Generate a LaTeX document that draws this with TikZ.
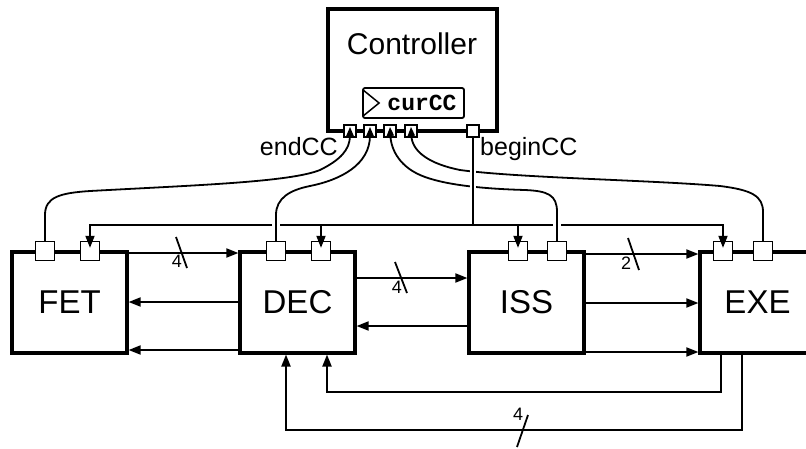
\documentclass[tikz,border=0pt]{standalone}
\usepackage{fontspec}
\setmainfont{Liberation Sans}
\setmonofont{Liberation Mono}
\usetikzlibrary{arrows.meta,calc}
\begin{document}
\begin{tikzpicture}[x=1pt,y=-1pt,
  blk/.style={draw, line width=3.2pt, minimum width=115pt, minimum height=101pt, inner sep=0pt, font=\fontsize{33}{36}\selectfont},
  prt/.style={draw, fill=white, line width=1.4pt, minimum size=19pt, inner sep=0pt},
  cprt/.style={draw, fill=white, line width=1.3pt, minimum size=12pt, inner sep=0pt},
  conn/.style={line width=1.8pt},
  arr/.style={conn, -{Triangle[length=12pt,width=9pt]}},
  sarr/.style={conn, -{Triangle[length=9pt,width=7pt]}},
  lbl/.style={font=\fontsize{25}{28}\selectfont, inner sep=0pt},
  buslbl/.style={font=\fontsize{18}{20}\selectfont, inner sep=0pt}
]
\useasboundingbox (0,0) rectangle (806,448);
\fill[white] (0,0) rectangle (806,448);
\clip (0,0) rectangle (806,448);

% controller
\node[draw, line width=3.2pt, minimum width=169pt, minimum height=122pt, inner sep=0pt] (ctl) at (412.5,70) {};
\node[font=\fontsize{30}{33}\selectfont, inner sep=0pt, anchor=base] (ctltxt) at (412,54) {Controller};
\node[draw, rounded corners=2pt, line width=1.8pt, minimum width=101pt, minimum height=30pt, inner sep=0pt] (cur) at (413.5,103) {};
\draw[line width=1.5pt] ($(cur.west)+(1,-13)$) -- ($(cur.west)+(17,0)$) -- ($(cur.west)+(1,13)$);
\node[font=\ttfamily\bfseries\fontsize{23}{26}\selectfont, inner sep=0pt] (curtxt) at (422,103) {curCC};

% blocks
\node[blk] (fet) at (69.5,302.5) {FET};
\node[blk] (dec) at (297.5,302.5) {DEC};
\node[blk] (iss) at (526.5,302.5) {ISS};
\node[blk] (exe) at (757.5,302.5) {EXE};

% controller ports
\node[cprt] (c1) at (350,131) {};
\node[cprt] (c2) at (370,131) {};
\node[cprt] (c3) at (390,131) {};
\node[cprt] (c4) at (411,131) {};
\node[cprt] (cb) at (473,131) {};

% block ports
\node[prt] (fp1) at (45,251) {};
\node[prt] (fp2) at (90,251) {};
\node[prt] (dp1) at (276,251) {};
\node[prt] (dp2) at (321,251) {};
\node[prt] (ip1) at (518,251) {};
\node[prt] (ip2) at (557,251) {};
\node[prt] (ep1) at (723,251) {};
\node[prt] (ep2) at (763,251) {};

% labels
\node[lbl, anchor=base east] (endl) at (338,155) {endCC};
\node[lbl, anchor=base west] (beginl) at (480,155) {beginCC};

% horizontal data arrows
\draw[arr] (fet.east |- 0,253) -- (dec.west |- 0,253);
\draw[arr] (dec.west |- 0,302) -- (fet.east |- 0,302);
\draw[arr] (dec.west |- 0,350) -- (fet.east |- 0,350);
\draw[arr] (dec.east |- 0,278) -- (iss.west |- 0,278);
\draw[arr] (iss.west |- 0,326) -- (dec.east |- 0,326);
\draw[arr] (iss.east |- 0,254) -- (exe.west |- 0,254);
\draw[arr] (iss.east |- 0,303) -- (exe.west |- 0,303);
\draw[arr] (iss.east |- 0,352) -- (exe.west |- 0,352);

% bus width marks
\draw[conn] (176,237) -- (187,268);
\node[buslbl] (b1) at (177,261) {4};
\draw[conn] (395,262) -- (407,293);
\node[buslbl] (b2) at (397,287) {4};
\draw[conn] (628,238) -- (639,270);
\node[buslbl] (b3) at (626,263) {2};

% feedback from EXE to DEC
\coordinate (e1) at (721,354.5);
\coordinate (e2) at (742,354.5);
\coordinate (d1) at (327,354.5);
\coordinate (d2) at (286,354.5);
\draw[arr] (e1) -- (721,392) -| (d1);
\draw[arr] (e2) -- (742,430) -| (d2);
\draw[conn] (528,415) -- (517,447);
\node[buslbl] (b4) at (518,414) {4};

% beginCC distribution line
\coordinate (g1a) at (272,225);
\coordinate (g1b) at (280,225);
\coordinate (g2a) at (553,225);
\coordinate (g2b) at (561,225);
\draw[arr] (g1a) -| ($(fp2.north)+(0,7)$);
\draw[conn] (g1b) -- (g2a);
\draw[arr] (g2b) -| ($(ep1.north)+(0,7)$);
\draw[arr] (dp2.north |- g1b) -- ($(dp2.north)+(0,7)$);
\draw[arr] (ip1.north |- g1b) -- ($(ip1.north)+(0,7)$);

% endCC curves
\draw[sarr] (fp1.north) -- (45,215) .. controls (45,197) and (60,193) .. (90,191)
  .. controls (200,185) and (290,182) .. (320,170) .. controls (340,160) and (350,150) .. ($(c1.north)+(0,2.5)$);
\draw[sarr] (dp1.north) -- (276,215) .. controls (276,198) and (290,190) .. (310,186)
  .. controls (340,180) and (370,165) .. ($(c2.north)+(0,2.5)$);
\draw[sarr] (ip2.north) -- (557,212) .. controls (557,195) and (548,191) .. (525,190)
  .. controls (490,189) and (450,186) .. (425,177) .. controls (400,168) and (391,150) .. ($(c3.north)+(0,2.5)$);
\draw[sarr] (ep2.north) -- (763,212) .. controls (763,196) and (752,190) .. (720,186)
  .. controls (650,180) and (520,178) .. (460,170) .. controls (430,164) and (412,152) .. ($(c4.north)+(0,2.5)$);

% beginCC vertical (over the curves)
\draw[white, line width=6pt] (473,145) -- (473,214);
\draw[conn] (cb.south) -- (cb.south |- g1b);
\end{tikzpicture}
\end{document}
